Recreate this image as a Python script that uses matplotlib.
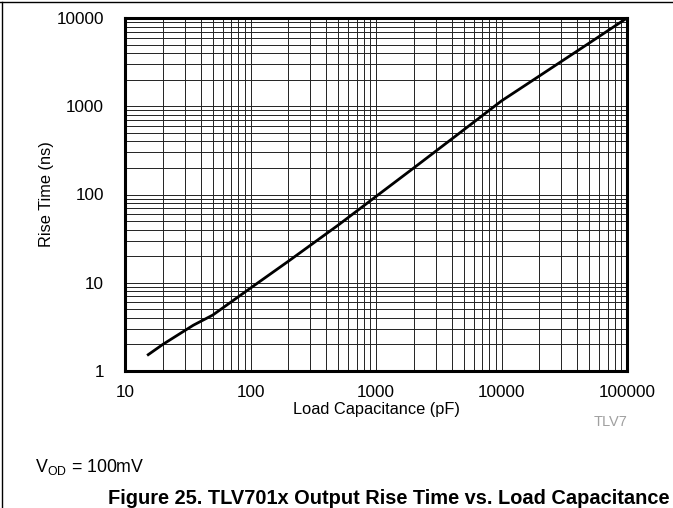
import matplotlib
matplotlib.use("Agg")
import matplotlib.pyplot as plt
from matplotlib.lines import Line2D
from matplotlib.ticker import LogLocator, FixedLocator, NullFormatter

plt.rcParams['font.family'] = ['Liberation Sans', 'DejaVu Sans']
plt.rcParams['mathtext.fontset'] = 'custom'
plt.rcParams['mathtext.rm'] = 'Liberation Sans'

# rise time vs load capacitance
cap_pf = [15, 20, 35, 50, 100, 200, 500, 1000, 2000, 5000, 10000, 20000, 50000, 100000]
rise_ns = [1.5, 2.0, 3.3, 4.3, 8.7, 17.5, 45, 95, 200, 540, 1150, 2200, 5200, 10000]

x_ticks = [10, 100, 1000, 10000, 100000]
y_ticks = [1, 10, 100, 1000, 10000]

fig = plt.figure(figsize=(6.73, 5.08), dpi=100)
ax = fig.add_axes([125/673, 1 - 371/508, 502/673, 353/508])

ax.set_xscale('log')
ax.set_yscale('log')
ax.set_xlim(10, 100000)
ax.set_ylim(1, 10000)

ax.xaxis.set_major_locator(FixedLocator(x_ticks))
ax.yaxis.set_major_locator(FixedLocator(y_ticks))
ax.set_xticklabels([str(v) for v in x_ticks])
ax.set_yticklabels([str(v) for v in y_ticks])
ax.xaxis.set_minor_locator(LogLocator(base=10, subs=range(2, 10)))
ax.yaxis.set_minor_locator(LogLocator(base=10, subs=range(2, 10)))
ax.xaxis.set_minor_formatter(NullFormatter())
ax.yaxis.set_minor_formatter(NullFormatter())

ax.grid(True, which='both', color='#222222', linewidth=0.7)
ax.set_axisbelow(True)
ax.tick_params(which='both', length=0, labelsize=12.3)
ax.tick_params(axis='x', pad=10)
ax.tick_params(axis='y', pad=15)
for s in ax.spines.values():
    s.set_linewidth(2.2)

ax.plot(cap_pf, rise_ns, color='black', linewidth=2.0, solid_capstyle='butt')

ax.set_xlabel("Load Capacitance (pF)", fontsize=11.8, labelpad=1.5)
ax.set_ylabel("Rise Time (ns)", fontsize=11.8, labelpad=2)

fig.text(611/673, 1 - 422/508, "TLV7", fontsize=10.5, color='#a0a0a0',
         ha='center', va='center')
fig.text(35/673, 1 - 467/508, r"V$_{\mathrm{OD}}$ = 100mV", fontsize=12.8,
         ha='left', va='center')
fig.text(669/673, 1 - 498/508,
         "Figure 25. TLV701x Output Rise Time vs. Load Capacitance",
         fontsize=14.4, fontweight='bold', ha='right', va='center')

# page border lines
fig.add_artist(Line2D([0, 1], [1 - 2/508, 1 - 2/508], color='black', linewidth=1.0,
                      transform=fig.transFigure))
fig.add_artist(Line2D([1.5/673, 1.5/673], [0, 1 - 2/508], color='black', linewidth=1.0,
                      transform=fig.transFigure))

fig.savefig("out.png", dpi=100)
